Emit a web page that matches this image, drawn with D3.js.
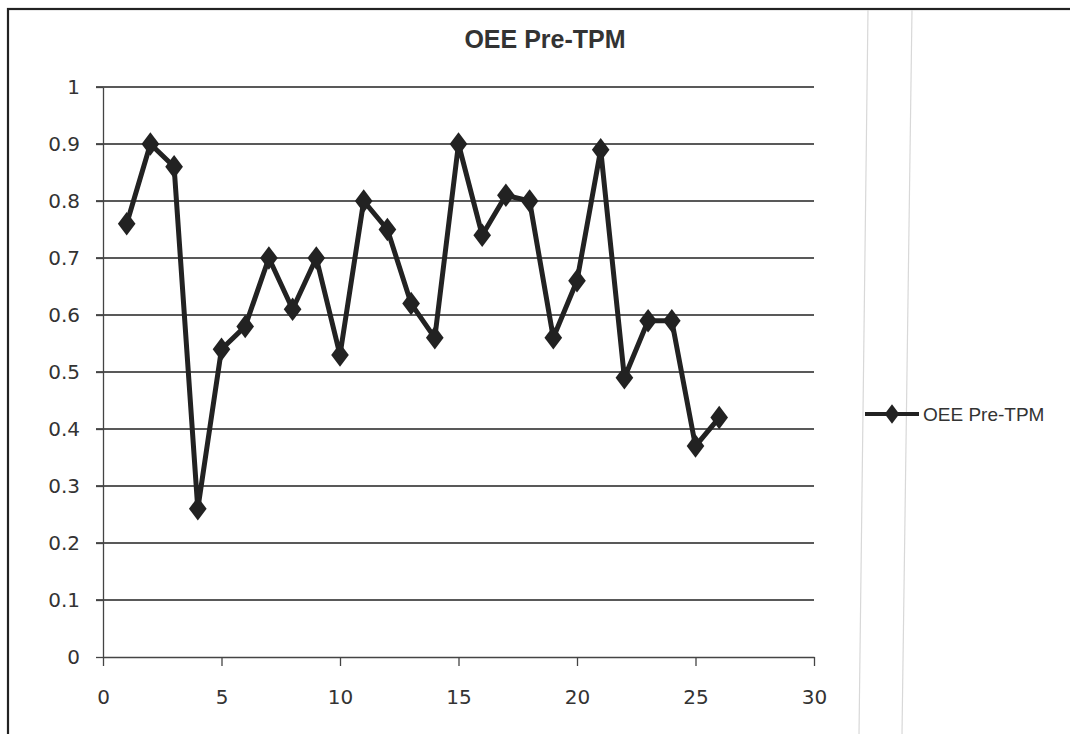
<!DOCTYPE html>
<html>
<meta charset="utf-8">
<style>
body { margin: 0; background: #fff; }

.axis text {
  font: 20px "DejaVu Sans", sans-serif;
  fill: #333;
}

.axis path, .axis line {
  fill: none;
  stroke: #444;
  stroke-width: 1.3;
}

.grid line {
  stroke: #222;
  stroke-width: 1.6;
}

path.line {
  fill: none;
  stroke: #222;
  stroke-width: 5;
  stroke-linejoin: round;
}

.marker {
  fill: #222;
}

.title {
  font: bold 25px "Liberation Sans", Arial, sans-serif;
  fill: #333;
}

.legend text {
  font: 19px "Liberation Sans", Arial, sans-serif;
  fill: #333;
}
</style>
<body>
<div id="chart"></div>

<script src="https://d3js.org/d3.v7.min.js"></script>
<script>

var days = [1, 2, 3, 4, 5, 6, 7, 8, 9, 10, 11, 12, 13,
    14, 15, 16, 17, 18, 19, 20, 21, 22, 23, 24, 25, 26];
var oee = [0.76, 0.90, 0.86, 0.26, 0.54, 0.58, 0.70, 0.61, 0.70, 0.53, 0.80, 0.75, 0.62,
    0.56, 0.90, 0.74, 0.81, 0.80, 0.56, 0.66, 0.89, 0.49, 0.59, 0.59, 0.37, 0.42];
var xTicks = [0, 5, 10, 15, 20, 25, 30];
var yTicks = [0, 0.1, 0.2, 0.3, 0.4, 0.5, 0.6, 0.7, 0.8, 0.9, 1];
var seriesName = "OEE Pre-TPM";

var W = 1070, H = 734;
var margin = {top: 87, right: 256, bottom: 77, left: 103},
    width = W - margin.left - margin.right,
    height = H - margin.top - margin.bottom;

var svg = d3.select("#chart").append("svg")
    .attr("width", W)
    .attr("height", H);

// chart frame (runs off the right and bottom edge in the scan)
svg.append("rect")
    .attr("x", 8).attr("y", 9)
    .attr("width", 1080).attr("height", 760)
    .attr("fill", "none")
    .attr("stroke", "#222")
    .attr("stroke-width", 2.2);

// faint fold lines of the scanned page
svg.append("line")
    .attr("x1", 868).attr("y1", 10).attr("x2", 859).attr("y2", 734)
    .attr("stroke", "#d8d8d8").attr("stroke-width", 1.2);
svg.append("line")
    .attr("x1", 912).attr("y1", 10).attr("x2", 902).attr("y2", 734)
    .attr("stroke", "#d8d8d8").attr("stroke-width", 1.2);

svg.append("text")
    .attr("class", "title")
    .attr("x", 545)
    .attr("y", 48)
    .attr("text-anchor", "middle")
    .text(seriesName);

var g = svg.append("g")
    .attr("transform", "translate(" + margin.left + "," + margin.top + ")");

var x = d3.scaleLinear()
    .domain([0, 30])
    .range([0, width]);

var y = d3.scaleLinear()
    .domain([0, 1])
    .range([height, 0]);

g.append("g")
    .attr("class", "grid")
    .selectAll("line")
    .data(yTicks.filter(function(d) { return d > 0; }))
    .enter().append("line")
    .attr("x1", -7)
    .attr("x2", width)
    .attr("y1", function(d) { return y(d); })
    .attr("y2", function(d) { return y(d); });

var xAxis = d3.axisBottom(x)
    .tickValues(xTicks)
    .tickSizeInner(9)
    .tickSizeOuter(0)
    .tickPadding(24);

var yAxis = d3.axisLeft(y)
    .tickValues(yTicks)
    .tickFormat(function(d) { return String(+d.toFixed(1)); })
    .tickSizeInner(7)
    .tickSizeOuter(0)
    .tickPadding(16);

g.append("g")
    .attr("class", "x axis")
    .attr("transform", "translate(0," + height + ")")
    .call(xAxis);

g.append("g")
    .attr("class", "y axis")
    .call(yAxis);

var data = days.map(function(d, i) { return [d, oee[i]]; });

var line = d3.line()
    .x(function(d) { return x(d[0]); })
    .y(function(d) { return y(d[1]); });

g.append("path")
    .datum(data)
    .attr("class", "line")
    .attr("d", line);

var diamond = d3.symbol().type(d3.symbolDiamond).size(160);

g.selectAll(".marker")
    .data(data)
    .enter().append("path")
    .attr("class", "marker")
    .attr("d", diamond)
    .attr("transform", function(d) {
        return "translate(" + x(d[0]) + "," + y(d[1]) + ") scale(1.3,1)";
    });

var legend = svg.append("g")
    .attr("class", "legend")
    .attr("transform", "translate(865,414)");

legend.append("line")
    .attr("x1", 0).attr("x2", 54)
    .attr("stroke", "#222")
    .attr("stroke-width", 4);

legend.append("path")
    .attr("class", "marker")
    .attr("d", d3.symbol().type(d3.symbolDiamond).size(110))
    .attr("transform", "translate(27,0) scale(1.3,1)");

legend.append("text")
    .attr("x", 58)
    .attr("y", 7)
    .text(seriesName);

</script>
</body>
</html>
